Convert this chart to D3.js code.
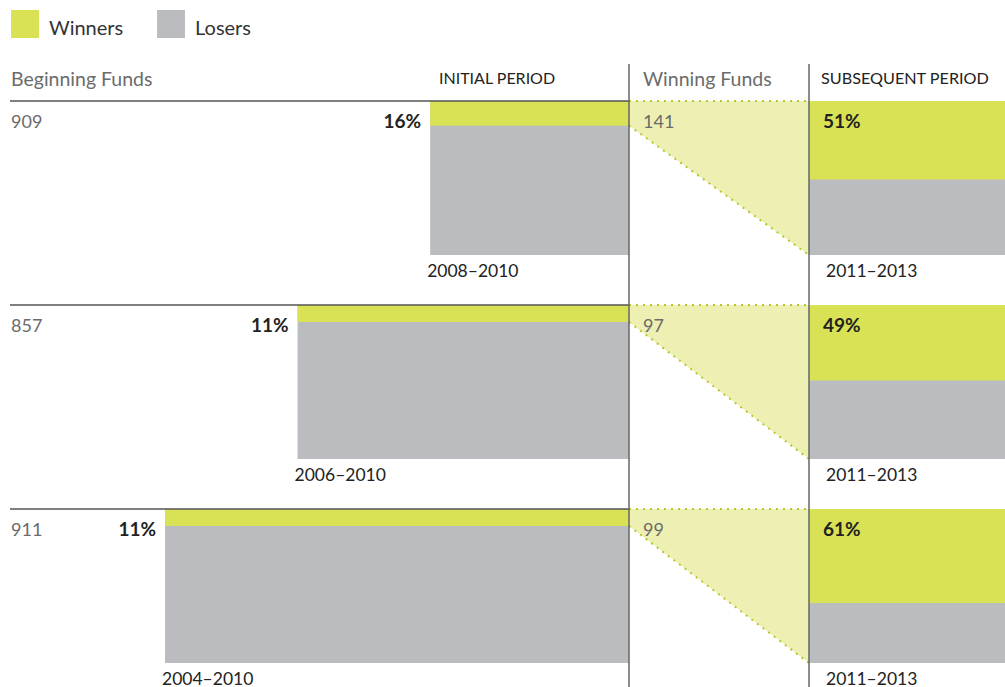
<!DOCTYPE html>
<html>
<head>
<meta charset="utf-8">
<script src="https://cdn.jsdelivr.net/npm/d3@7"></script>
<style>
    body { margin: 0; background: #fff; font-family: Lato, "Open Sans", sans-serif; }
    #chart { width: 1005px; height: 687px; }
</style>
</head>
<body>
<div id="chart"></div>
<script>
// chart values
let beginningFunds = [909, 857, 911];
let initialStartYear = [2008, 2006, 2004];
let initialEndYear = 2010;
let initialWinPct = [16, 11, 11];
let winningFunds = [141, 97, 99];
let subsequentWinPct = [51, 49, 61];
let initialLabels = ["2008–2010", "2006–2010", "2004–2010"];
let subsequentLabels = ["2011–2013", "2011–2013", "2011–2013"];
let subsequentYears = [2011, 2013];
let legendItems = ["Winners", "Losers"];

class FundsVis {

    constructor(parentElement) {
        this.parentElement = parentElement;
        this.initVis();
    }

    initVis() {
        let vis = this;

        vis.colors = {Winners: '#d9e254', Losers: '#bbbcc0', tri: '#eef0b3', dots: '#b4c82c'};
        vis.width = 1005;
        vis.height = 687;
        vis.rowTop0 = 101;
        vis.rowStep = 204;
        vis.barHeight = 154;
        vis.midX = 629;
        vis.rightX = 809;

        vis.svg = d3.select("#" + vis.parentElement).append("svg")
            .attr("width", vis.width)
            .attr("height", vis.height);

        // years -> x for the initial period, bars end at end of 2010
        vis.xInitial = d3.scaleLinear()
            .domain([2004, initialEndYear + 1])
            .range([165, vis.midX]);

        vis.xSubsequent = d3.scaleLinear()
            .domain([subsequentYears[0], subsequentYears[1] + 1])
            .range([vis.rightX, vis.width]);

        vis.yPct = d3.scaleLinear()
            .domain([0, 100])
            .range([0, vis.barHeight]);

        vis.rowY = d3.scaleLinear()
            .domain([0, 1])
            .range([vis.rowTop0, vis.rowTop0 + vis.rowStep]);

        vis.rows = beginningFunds.map((d, i) => ({
            begin: d,
            start: initialStartYear[i],
            winPct: initialWinPct[i],
            winners: winningFunds[i],
            subPct: subsequentWinPct[i],
            label: initialLabels[i],
            subLabel: subsequentLabels[i],
            i: i
        }));

        vis.drawLegend();
        vis.drawHeaders();
        vis.drawRows();
    }

    drawLegend() {
        let vis = this;
        let lg = vis.svg.append('g').attr('class', 'legend');
        let xs = [11, 157];
        legendItems.forEach((d, i) => {
            lg.append('rect')
                .attr('x', xs[i]).attr('y', 10)
                .attr('width', 28).attr('height', 28)
                .attr('fill', vis.colors[d]);
            lg.append('text')
                .attr('x', xs[i] + 38).attr('y', 35)
                .attr('font-size', 20)
                .attr('fill', '#333')
                .text(d);
        });
    }

    drawHeaders() {
        let vis = this;
        vis.svg.append('text')
            .attr('x', 11).attr('y', 86)
            .attr('font-size', 19.5).attr('fill', '#6b6b6b')
            .text('Beginning Funds');
        vis.svg.append('text')
            .attr('x', 439).attr('y', 84)
            .attr('font-size', 16).attr('fill', '#222')
            .text('INITIAL PERIOD');
        vis.svg.append('text')
            .attr('x', 643).attr('y', 86)
            .attr('font-size', 19.5).attr('fill', '#6b6b6b')
            .text('Winning Funds');
        vis.svg.append('text')
            .attr('x', 821).attr('y', 84)
            .attr('font-size', 16.2).attr('fill', '#222')
            .text('SUBSEQUENT PERIOD');
    }

    drawRows() {
        let vis = this;

        let row = vis.svg.selectAll('.row')
            .data(vis.rows)
            .enter().append('g')
            .attr('class', 'row')
            .attr('transform', d => `translate(0, ${vis.rowY(d.i)})`);

        // connecting triangle
        row.append('path')
            .attr('fill', vis.colors.tri)
            .attr('d', d => `M${vis.midX},0 L${vis.rightX},0 L${vis.rightX},${vis.barHeight} L${vis.midX},${vis.yPct(d.winPct)} Z`);

        row.append('line')
            .attr('x1', vis.midX).attr('x2', vis.rightX)
            .attr('y1', 0).attr('y2', 0)
            .attr('stroke', vis.colors.dots).attr('stroke-width', 2)
            .attr('stroke-dasharray', '2,5');

        row.append('line')
            .attr('x1', vis.midX).attr('x2', vis.rightX)
            .attr('y1', d => vis.yPct(d.winPct)).attr('y2', vis.barHeight)
            .attr('stroke', vis.colors.dots).attr('stroke-width', 2)
            .attr('stroke-dasharray', '2,5');

        // initial period bars
        row.append('rect')
            .attr('x', d => vis.xInitial(d.start))
            .attr('y', 0)
            .attr('width', d => vis.midX - vis.xInitial(d.start))
            .attr('height', vis.barHeight)
            .attr('fill', vis.colors.Losers);
        row.append('rect')
            .attr('x', d => vis.xInitial(d.start))
            .attr('y', 0)
            .attr('width', d => vis.midX - vis.xInitial(d.start))
            .attr('height', d => vis.yPct(d.winPct))
            .attr('fill', vis.colors.Winners);

        // subsequent period bars
        row.append('rect')
            .attr('x', vis.xSubsequent(subsequentYears[0]))
            .attr('y', 0)
            .attr('width', vis.xSubsequent(subsequentYears[1] + 1) - vis.xSubsequent(subsequentYears[0]))
            .attr('height', vis.barHeight)
            .attr('fill', vis.colors.Losers);
        row.append('rect')
            .attr('x', vis.xSubsequent(subsequentYears[0]))
            .attr('y', 0)
            .attr('width', vis.xSubsequent(subsequentYears[1] + 1) - vis.xSubsequent(subsequentYears[0]))
            .attr('height', d => vis.yPct(d.subPct))
            .attr('fill', vis.colors.Winners);

        // top rule
        row.append('line')
            .attr('x1', 10).attr('x2', vis.midX)
            .attr('y1', 0).attr('y2', 0)
            .attr('stroke', '#555').attr('stroke-width', 1.5);

        // texts
        row.append('text')
            .attr('x', 11).attr('y', 27)
            .attr('font-size', 18).attr('fill', '#6b6b6b')
            .text(d => d.begin);

        row.append('text')
            .attr('x', d => vis.xInitial(d.start) - 9).attr('y', 27)
            .attr('text-anchor', 'end')
            .attr('font-size', 19).attr('font-weight', 'bold').attr('fill', '#222')
            .text(d => d.winPct + '%');

        row.append('text')
            .attr('x', d => vis.xInitial(d.start) - 3).attr('y', vis.barHeight + 22)
            .attr('font-size', 17.5).attr('fill', '#222')
            .text(d => d.label);

        row.append('text')
            .attr('x', 643).attr('y', 27)
            .attr('font-size', 18).attr('fill', '#6b6b6b')
            .text(d => d.winners);

        row.append('text')
            .attr('x', 823).attr('y', 27)
            .attr('font-size', 19).attr('font-weight', 'bold').attr('fill', '#222')
            .text(d => d.subPct + '%');

        row.append('text')
            .attr('x', 826).attr('y', vis.barHeight + 22)
            .attr('font-size', 17.5).attr('fill', '#222')
            .text(d => d.subLabel);

        // vertical dividers
        [vis.midX, vis.rightX].forEach(x => {
            vis.svg.append('line')
                .attr('x1', x).attr('x2', x)
                .attr('y1', 64).attr('y2', vis.height)
                .attr('stroke', '#666').attr('stroke-width', 1.5);
        });
    }
}

new FundsVis('chart');
</script>
</body>
</html>
